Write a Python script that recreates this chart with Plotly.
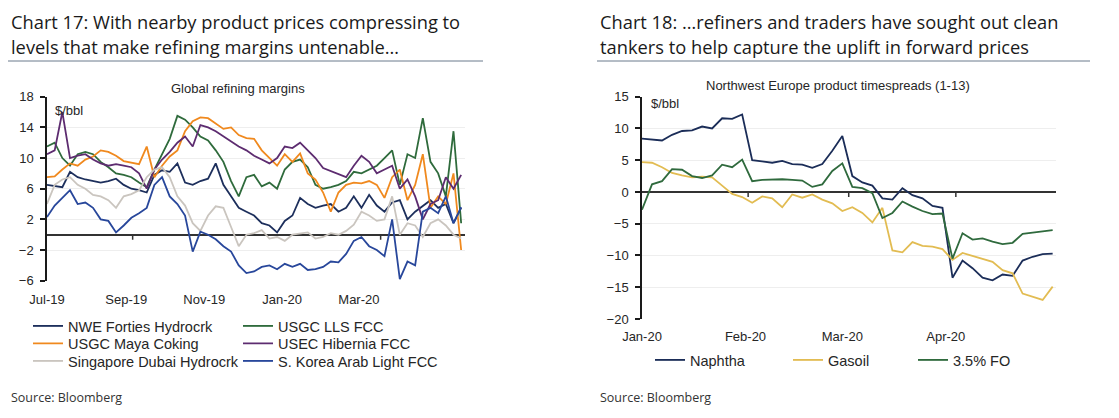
import plotly.graph_objects as go
import pandas as pd

W, H = 1119, 418

# ---------------- DATA ----------------
left_dates = pd.date_range("2019-07-01", periods=55, freq="6D")

nwe_forties = [6.5, 6.3, 6.2, 8.2, 7.5, 7.2, 7.0, 6.8, 7.0, 7.3,
               6.5, 6.0, 5.8, 5.5, 7.8, 8.4, 8.2, 9.3, 6.8, 6.5,
               7.0, 7.3, 9.3, 6.5, 5.0, 3.5, 3.0, 2.5, 1.5, 1.2,
               0.3, 1.8, 2.5, 4.8, 4.0, 3.5, 3.8, 4.0, 3.0, 3.5,
               5.0, 3.5, 5.2, 3.8, 3.0, 4.2, 4.5, 2.0, 3.0, 3.8,
               4.5, 3.5, 4.0, 1.5, 3.5]
usgc_lls = [11.5, 12.0, 10.0, 9.0, 10.5, 10.8, 10.5, 9.5, 8.8, 8.0,
            7.8, 7.5, 6.8, 6.2, 8.5, 10.5, 12.5, 15.5, 15.0, 14.0,
            12.8, 12.3, 11.0, 9.5, 7.0, 5.0, 7.5, 7.8, 6.3, 6.8,
            6.0, 8.5, 9.5, 9.8, 8.8, 6.5, 6.0, 6.2, 6.5, 7.0,
            8.2, 8.0, 8.5, 9.0, 10.0, 11.0, 6.5, 10.5, 10.0, 15.2,
            9.5, 8.0, 5.0, 13.5, 1.5]
usgc_maya = [7.5, 7.6, 8.5, 9.3, 9.0, 9.8, 10.2, 11.0, 10.8, 10.3,
             9.6, 9.4, 9.2, 11.5, 7.5, 9.0, 10.2, 11.0, 13.5, 14.8,
             15.3, 15.2, 14.5, 13.8, 14.0, 13.0, 12.6, 12.5, 11.0, 10.0,
             9.0, 10.5, 9.5, 10.6, 8.0, 7.2, 5.5, 3.0, 5.5, 6.5,
             6.8, 6.7, 7.0, 6.5, 4.8, 7.5, 8.5, 4.5, 6.5, 10.5,
             3.5, 5.0, 4.0, 8.0, -2.0]
usec_hibernia = [10.5, 11.0, 16.0, 10.0, 10.3, 10.5, 9.8, 9.3, 9.0, 9.2,
                 9.0, 8.8, 8.0, 6.0, 8.5, 9.8, 10.8, 12.0, 12.8, 11.5,
                 14.3, 14.0, 13.5, 12.8, 12.2, 11.5, 11.0, 10.3, 9.8, 9.3,
                 10.0, 11.5, 11.3, 12.0, 11.0, 10.0, 8.7, 8.3, 7.8, 7.5,
                 9.0, 10.3, 9.5, 8.0, 8.5, 9.0, 6.0, 7.2, 5.0, 2.0,
                 4.0, 4.5, 7.5, 6.0, 7.8]
singapore_dubai = [4.0, 6.5, 7.2, 7.5, 6.5, 6.0, 5.2, 5.0, 4.5, 3.5,
                   5.0, 5.3, 5.8, 7.5, 8.5, 8.8, 7.5, 5.0, 3.8, 1.5,
                   0.5, 2.5, 3.7, 3.5, 1.0, -1.5, 0.0, 0.2, 0.6, -0.5,
                   -0.3, -0.8, 0.0, 0.2, 0.3, -0.5, -0.3, 0.2, 0.0, 0.5,
                   1.3, 3.0, 2.5, 1.8, 2.0, 5.0, 0.0, 1.5, 1.2, -0.3,
                   1.5, 2.0, 1.2, 0.0, -0.5]
skorea_arab = [2.3, 3.8, 4.8, 5.8, 4.0, 4.2, 3.5, 2.0, 1.8, 0.3,
               1.2, 2.2, 2.8, 3.5, 6.5, 7.5, 5.0, 4.0, 2.5, -2.2,
               0.4, 0.0, -0.6, -1.5, -2.2, -4.0, -5.0, -4.8, -4.2, -4.0,
               -4.5, -3.8, -4.2, -3.8, -4.6, -4.5, -4.2, -3.5, -3.6, -2.5,
               -0.8, -0.3, -1.5, -2.0, -2.8, 2.0, -5.8, -3.5, -4.0, 3.0,
               3.5, 2.8, 5.0, 1.5, 3.6]

left_tick_dates = ["2019-07-01", "2019-09-01", "2019-11-01", "2020-01-01", "2020-03-01"]
left_tick_text = ["Jul-19", "Sep-19", "Nov-19", "Jan-20", "Mar-20"]
left_y_ticks = [-6, -2, 2, 6, 10, 14, 18]

right_dates = pd.date_range("2020-01-01", periods=42, freq="3D")

naphtha = [8.4, 8.3, 8.1, 9.0, 9.6, 9.7, 10.3, 10.0, 11.6, 11.5,
           12.2, 5.0, 4.8, 4.6, 4.9, 4.4, 4.3, 3.8, 4.4, 6.5,
           8.8, 2.5, 1.5, 1.0, -1.0, -1.2, 0.6, -0.5, -1.0, -2.2,
           -2.5, -13.5, -10.8, -12.0, -13.5, -13.9, -13.0, -13.2, -10.8, -10.2,
           -9.8, -9.7]
gasoil = [4.7, 4.6, 3.9, 3.0, 2.6, 2.3, 2.4, 2.3, 1.0, -0.3,
          -0.8, -1.7, -0.7, -1.0, -2.4, -0.4, -0.9, -0.4, -1.2, -1.8,
          -3.0, -2.4, -3.3, -4.8, -2.5, -9.2, -9.5, -7.9, -8.5, -8.6,
          -9.0, -10.7, -9.6, -10.1, -10.6, -11.0, -12.3, -12.8, -16.0, -16.5,
          -17.0, -14.9]
fuel_oil = [-2.8, 1.2, 1.7, 3.6, 3.5, 2.5, 2.2, 2.6, 4.3, 3.9,
            5.1, 1.7, 1.9, 2.0, 2.0, 1.9, 1.8, 0.8, 1.2, 3.3,
            4.5, 0.8, 0.6, -0.2, -4.1, -3.3, -1.5, -2.3, -3.0, -3.5,
            -3.4, -10.5, -6.5, -7.5, -7.3, -7.8, -8.2, -8.0, -6.6, -6.4,
            -6.2, -6.0]

right_tick_dates = ["2020-01-01", "2020-02-01", "2020-03-01", "2020-04-01"]
right_tick_text = ["Jan-20", "Feb-20", "Mar-20", "Apr-20"]
right_y_ticks = [-20, -15, -10, -5, 0, 5, 10, 15]

# ---------------- HELPERS ----------------
OFF = 8  # page body margin offset (px)

def fx(px):
    return (px - OFF) / W

def fy(py):
    return 1 - (py - OFF) / H

TICK_FONT = dict(family="Liberation Sans, Arial", size=13, color="#262626")
LEG_FONT = dict(family="Liberation Sans, Arial", size=14.5, color="#262626")
TITLE_FONT = dict(family="Open Sans", size=18.3, color="#1a1a1a")
GRID = "#eeeeee"
AXIS = "#1a1a1a"

fig = go.Figure()

# name, values, colour, legend text x (px), legend row y (px)
left_series = [
    ("NWE Forties Hydrocrk", nwe_forties, "#1d2f5c", 68, 326),
    ("USGC LLS FCC", usgc_lls, "#2f6b3c", 278, 326),
    ("USGC Maya Coking", usgc_maya, "#f0891e", 68, 343.5),
    ("USEC Hibernia FCC", usec_hibernia, "#5d2c70", 278, 343.5),
    ("Singapore Dubai Hydrocrk", singapore_dubai, "#cac5bf", 68, 361),
    ("S. Korea Arab Light FCC", skorea_arab, "#28479b", 278, 361),
]
right_series = [
    ("Naphtha", naphtha, "#1b2d58", 690, 360),
    ("Gasoil", gasoil, "#e2bc52", 828, 360),
    ("3.5% FO", fuel_oil, "#2f6a3d", 953, 360),
]

legends = {}
n = 0
for name, vals, col, tx, ty in left_series + right_series:
    n += 1
    key = "legend" if n == 1 else f"legend{n}"
    is_left = n <= len(left_series)
    fig.add_trace(go.Scatter(
        x=left_dates if is_left else right_dates, y=vals, name=name, mode="lines",
        line=dict(color=col, width=1.8),
        xaxis="x" if is_left else "x2", yaxis="y" if is_left else "y2",
        legend=key))
    legends[key] = dict(x=fx(tx - 40), y=fy(ty), xanchor="left", yanchor="middle",
                        font=LEG_FONT, bgcolor="rgba(0,0,0,0)", borderwidth=0)

common_y = dict(showline=True, linecolor=AXIS, linewidth=1.5, ticks="outside",
                ticklen=5, tickwidth=1.5, tickcolor=AXIS, tickfont=TICK_FONT,
                showgrid=True, gridcolor=GRID, gridwidth=1,
                zeroline=True, zerolinecolor="#333333", zerolinewidth=1.5,
                ticklabelstandoff=4, automargin=False)
common_x = dict(showline=False, showgrid=False, zeroline=False, ticks="",
                tickfont=TICK_FONT, automargin=False)

fig.update_layout(
    width=W, height=H,
    margin=dict(l=0, r=0, t=0, b=0, pad=0, autoexpand=False),
    paper_bgcolor="white", plot_bgcolor="white",
    xaxis=dict(domain=[fx(47), fx(465)], range=["2019-07-01", "2020-05-23"],
               tickvals=left_tick_dates, ticktext=left_tick_text, anchor="y",
               ticklabelstandoff=9, **common_x),
    yaxis=dict(domain=[fy(280.7), fy(96.7)], range=[-6, 18], tickvals=left_y_ticks,
               anchor="x", **common_y),
    xaxis2=dict(domain=[fx(642), fx(1056)], range=["2020-01-01", "2020-05-04"],
                tickvals=right_tick_dates, ticktext=right_tick_text, anchor="y2",
                ticklabelstandoff=8, **common_x),
    yaxis2=dict(domain=[fy(319), fy(96.7)], range=[-20, 15], tickvals=right_y_ticks,
                anchor="x2", **common_y),
    showlegend=True,
    **legends,
)

annotations = [
    dict(text="Chart 17: With nearby product prices compressing to", x=fx(9), y=fy(22)),
    dict(text="levels that make refining margins untenable…", x=fx(9), y=fy(47)),
    dict(text="Chart 18: …refiners and traders have sought out clean", x=fx(598), y=fy(22)),
    dict(text="tankers to help capture the uplift in forward prices", x=fx(598), y=fy(47)),
]
for a in annotations:
    fig.add_annotation(xref="paper", yref="paper", xanchor="left", yanchor="middle",
                       showarrow=False, font=TITLE_FONT, **a)

small = [
    dict(text="Global refining margins", x=fx(238), y=fy(88), xanchor="center"),
    dict(text="Northwest Europe product timespreads (1-13)", x=fx(838), y=fy(85), xanchor="center"),
    dict(text="$/bbl", x=fx(53), y=fy(110), xanchor="left"),
    dict(text="$/bbl", x=fx(649), y=fy(103), xanchor="left"),
]
for a in small:
    fig.add_annotation(xref="paper", yref="paper", yanchor="middle", showarrow=False,
                       font=TICK_FONT, **a)

for xs in (fx(9), fx(598)):
    fig.add_annotation(text="Source: Bloomberg", xref="paper", yref="paper",
                       x=xs, y=fy(397), xanchor="left", yanchor="middle", showarrow=False,
                       font=dict(family="Open Sans", size=12.5, color="#333333"))

fig.add_shape(type="line", xref="paper", yref="paper", x0=fx(8), x1=fx(483),
              y0=fy(61), y1=fy(61), line=dict(color="#6b7a8c", width=1))
fig.add_shape(type="line", xref="paper", yref="paper", x0=fx(597), x1=fx(1090),
              y0=fy(61), y1=fy(61), line=dict(color="#6b7a8c", width=1))

for xr, yr, d in [("x", "y", "2019-09-06"), ("x", "y", "2020-03-18"),
                  ("x2", "y2", "2020-02-01 19:00"), ("x2", "y2", "2020-03-02 22:00"),
                  ("x2", "y2", "2020-04-04")]:
    fig.add_shape(type="line", xref=xr, yref=yr, x0=d, x1=d, ysizemode="pixel",
                  yanchor=0, y0=0, y1=-5, line=dict(color="#333333", width=1.5))

fig.write_html("out.html")
